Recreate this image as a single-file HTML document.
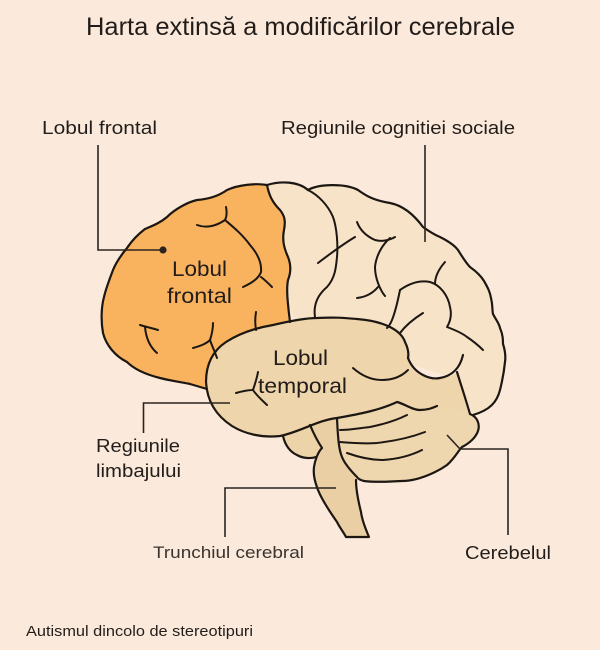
<!DOCTYPE html>
<html>
<head>
<meta charset="utf-8">
<style>
html,body{margin:0;padding:0;background:#fbeadb;}
svg{display:block;}
text{font-family:"Liberation Sans","DejaVu Sans",sans-serif;fill:#221d1a;}
</style>
</head>
<body>
<svg width="600" height="650" viewBox="0 0 600 650" xmlns="http://www.w3.org/2000/svg">
<rect x="0" y="0" width="600" height="650" fill="#fbeadb"/>

<!-- Title -->
<text x="86" y="35" font-size="25" textLength="429" lengthAdjust="spacingAndGlyphs">Harta extinsă a modificărilor cerebrale</text>

<!-- Fills -->
<!-- cream parietal/occipital -->
<path fill="#f6e3c8" d="M267,185 C280,181 298,181 308,190 C318,184 345,183 358,190 C365,195 372,200 390,203 C400,205 412,212 423,227 C430,232 435,235 440,237 C450,242 455,246 458,250 C463,258 466,263 470,267 C477,272 481,276 484,281 C488,288 490,292 491,298 C493,306 492,310 493,314 C496,320 499,323 500,328 C503,335 503,340 503,344 C505,350 506,355 505,362 C504,372 502,382 500,390 C497,402 490,410 473,415 L460,380 L300,330 L240,200 Z"/>
<!-- orange frontal -->
<path fill="#f9b35e" d="M267,185 C255,183 238,185 227,190 C220,195 210,199 197,200 C188,202 175,209 167,217 C160,223 152,226 145,229 C137,235 131,242 127,248 C123,253 117,260 113,270 C110,278 106,288 104,297 C101,308 101,322 103,333 C106,345 115,356 127,362 C135,370 148,375 160,378 C172,381 180,382 190,384 L207,390 L260,330 L290,322 C288,305 286,290 288,280 C292,270 290,262 288,257 C284,248 282,240 284,230 C286,220 284,215 280,210 C272,202 269,195 267,185 Z"/>
<!-- pons bump -->
<path fill="#ecd3a8" d="M283,435 C285,445 290,452 297,455 C302,458 310,459 316,457 L322,448 L312,426 Z"/>
<!-- cerebellum -->
<path fill="#eed6ae" d="M330,414 L460,380 L470,414 C478,417 480,425 478,431 C476,437 470,443 462,447 C458,451 455,458 447,465 C440,470 437,471 433,473 C420,479 410,481 402,481 C385,482 372,482 364,481 C360,480 358,479 357,477 C350,470 344,462 342,457 C339,450 338,440 338,428 Z"/>
<!-- brainstem -->
<path fill="#e9cfa3" d="M310,425 C313,432 318,442 322,448 C318,452 315,460 314,467 C313,475 315,482 318,490 C322,500 330,512 337,522 C340,528 344,533 346,537 L369,537 C366,530 362,520 361,512 C358,500 356,490 356,480 L357,477 C350,470 344,462 342,457 C339,450 338,440 337,418 Z"/>
<!-- temporal -->
<path fill="#eed5ab" d="M206,382 C206,362 214,350 226,342 C240,333 255,328 273,325 C290,321 305,318 317,318 C335,317 345,318 357,319 C370,320 382,323 390,327 C398,331 403,336 405,342 C408,348 409,353 408,358 C414,374 430,380 440,378 C450,377 455,375 457,372 C462,385 466,400 470,414 L437,406 C432,408 428,410 420,410 C412,410 405,404 397,402 C380,410 360,414 337,418 C318,420 300,432 280,436 C262,438 245,434 232,426 C215,415 207,400 206,382 Z"/>

<!-- Outlines -->
<g fill="none" stroke="#1d1713" stroke-width="2.2" stroke-linecap="round" stroke-linejoin="round">
  <!-- orange outer -->
  <path d="M267,185 C255,183 238,185 227,190 C220,195 210,199 197,200 C188,202 175,209 167,217 C160,223 152,226 145,229 C137,235 131,242 127,248 C123,253 117,260 113,270 C110,278 106,288 104,297 C101,308 101,322 103,333 C106,345 115,356 127,362 C135,370 148,375 160,378 C172,381 180,382 190,384 L207,389"/>
  <!-- orange/cream boundary -->
  <path d="M267,185 C269,195 272,202 280,210 C284,215 286,220 284,230 C282,240 284,248 288,257 C290,262 292,270 288,280 C286,290 288,305 290,322"/>
  <!-- cream outer -->
  <path d="M267,185 C280,181 298,181 308,190 C318,184 345,183 358,190 C365,195 372,200 390,203 C400,205 412,212 423,227 C430,232 435,235 440,237 C450,242 455,246 458,250 C463,258 466,263 470,267 C477,272 481,276 484,281 C488,288 490,292 491,298 C493,306 492,310 493,314 C496,320 499,323 500,328 C503,335 503,340 503,344 C505,350 506,355 505,362 C504,372 502,382 500,390 C497,402 490,410 473,415"/>
  <!-- cream/tan gyrus boundary -->
  <path d="M408,358 C414,374 430,380 440,378 C452,376 460,368 463,355"/>
  <path d="M457,372 C461,385 466,400 470,414"/>
  <!-- temporal outline -->
  <path d="M206,382 C206,362 214,350 226,342 C240,333 255,328 273,325 C290,321 305,318 317,318 C335,317 345,318 357,319 C370,320 382,323 390,327 C398,331 403,336 405,342 C408,348 409,353 408,358"/>
  <path d="M206,382 C207,400 215,415 232,426 C245,434 262,438 280,436 C300,432 318,420 337,418 C360,414 380,410 397,402 C405,404 412,410 420,410 C428,410 432,408 437,406"/>
  <!-- cerebellum outer -->
  <path d="M470,414 C478,417 480,425 478,431 C476,437 470,443 462,447 C458,451 455,458 447,465 C440,470 437,471 433,473 C420,479 410,481 402,481 C385,482 372,482 364,481 C360,480 358,479 357,477 C350,470 344,462 342,457 C339,450 338,440 337,418"/>
  <!-- brainstem -->
  <path d="M310,425 C313,432 318,442 322,448 C318,452 315,460 314,467 C313,475 315,482 318,490 C322,500 330,512 337,522 C340,528 344,533 346,537 L369,537 C366,530 362,520 361,512 C358,500 356,490 356,480"/>
  <!-- pons bump -->
  <path d="M283,436 C285,445 290,452 297,455 C302,458 310,459 316,457"/>
</g>

<!-- Sulci -->
<g fill="none" stroke="#1d1713" stroke-width="2" stroke-linecap="round" stroke-linejoin="round">
  <!-- frontal -->
  <path d="M197,225 C205,228 215,227 225,220"/>
  <path d="M226,207 C227,212 227,216 225,220 C232,226 242,234 250,245 C257,253 262,262 261,272 C259,278 252,283 243,287"/>
  <path d="M261,277 C265,280 269,284 272,287"/>
  <path d="M140,325 C146,327 152,328 158,330"/>
  <path d="M145,327 C146,338 150,347 157,353"/>
  <path d="M193,348 C200,346 206,344 210,340 C212,334 213,328 213,323"/>
  <path d="M210,340 C212,346 215,352 217,358"/>
  <path d="M256,312 C255,318 255,324 256,330"/>
  <!-- cream -->
  <path d="M308,190 C318,195 328,205 333,217 C337,228 338,245 337,257 C336,268 335,278 327,287 C320,293 316,300 315,307 C314,312 315,315 315,318"/>
  <path d="M355,237 C345,243 335,250 318,263"/>
  <path d="M357,222 C360,230 366,236 375,240 C382,242 390,240 395,237"/>
  <path d="M390,238 C382,245 376,256 375,267 C375,278 380,290 385,296"/>
  <path d="M357,298 C366,297 373,293 378,287"/>
  <path d="M445,262 C438,270 435,278 435,284"/>
  <path d="M400,290 C410,283 420,280 430,282 C440,285 448,295 450,307 C452,315 450,322 447,327 C455,330 462,333 467,337 C473,341 478,345 483,350"/>
  <path d="M400,290 C398,300 396,310 392,320 C390,325 388,327 387,328"/>
  <path d="M423,313 C415,318 406,325 400,333"/>
  <!-- temporal -->
  <path d="M353,368 C362,376 372,380 382,380 C393,380 402,376 408,370"/>
  <path d="M236,393 C243,391 249,390 253,390 C255,384 257,378 258,372"/>
  <path d="M253,390 C257,396 262,400 267,405"/>
  <!-- cerebellum folia -->
  <path d="M340,430 C350,430 360,428 370,427 C385,424 397,420 407,415"/>
  <path d="M340,442 C352,443 365,444 377,443 C395,441 412,437 425,432"/>
  <path d="M347,453 C358,457 370,460 383,460 C398,459 412,455 422,450"/>
</g>

<!-- Leader lines -->
<g fill="none" stroke="#2a2420" stroke-width="1.6">
  <path d="M98,145 V250 H163"/>
  <path d="M425,145 V242"/>
  <path d="M230,403 H143.5 V433"/>
  <path d="M336,488 H225 V537"/>
  <path d="M447,435 L460,449 H508 V535"/>
</g>
<circle cx="163" cy="250" r="3.6" fill="#2a2420"/>

<!-- Labels -->
<text x="42" y="134" font-size="18" textLength="115" lengthAdjust="spacingAndGlyphs">Lobul frontal</text>
<text x="281" y="134" font-size="18" textLength="234" lengthAdjust="spacingAndGlyphs">Regiunile cognitiei sociale</text>

<text x="172" y="276" font-size="21" textLength="55" lengthAdjust="spacingAndGlyphs">Lobul</text>
<text x="167" y="303" font-size="21" textLength="65" lengthAdjust="spacingAndGlyphs">frontal</text>

<text x="273" y="365" font-size="21" textLength="55" lengthAdjust="spacingAndGlyphs">Lobul</text>
<text x="258" y="393" font-size="21" textLength="89" lengthAdjust="spacingAndGlyphs">temporal</text>

<text x="96" y="452" font-size="18" textLength="84" lengthAdjust="spacingAndGlyphs">Regiunile</text>
<text x="96" y="477" font-size="18" textLength="85" lengthAdjust="spacingAndGlyphs">limbajului</text>

<text x="153" y="558" font-size="17" textLength="151" lengthAdjust="spacingAndGlyphs" style="fill:#3a332e">Trunchiul cerebral</text>
<text x="465" y="559" font-size="18" textLength="86" lengthAdjust="spacingAndGlyphs">Cerebelul</text>

<text x="26" y="636" font-size="15" textLength="227" lengthAdjust="spacingAndGlyphs">Autismul dincolo de stereotipuri</text>
</svg>
</body>
</html>
